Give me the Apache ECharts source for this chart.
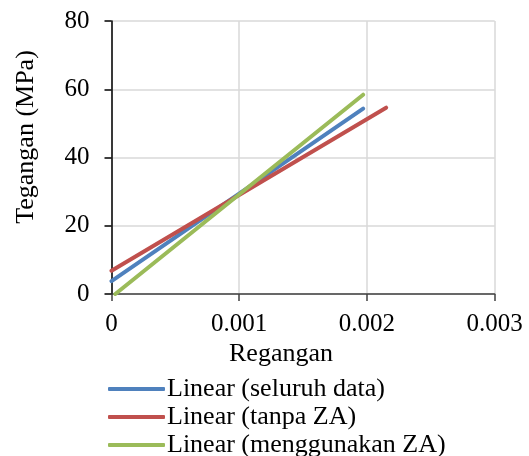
<!DOCTYPE html>
<html>
<head>
<meta charset="utf-8">
<script src="https://cdn.jsdelivr.net/npm/echarts@6/dist/echarts.min.js"></script>
<style>html,body{margin:0;padding:0;background:#fff}#c{width:529px;height:456px}</style>
</head>
<body>
<div id="c"></div>
<script>
var seriesNames = ['Linear (seluruh data)', 'Linear (tanpa ZA)', 'Linear (menggunakan ZA)'];
var blueX = [0, 0.00197];
var blueY = [3.8, 54.3];
var redX = [0, 0.00215];
var redY = [6.8, 54.6];
var greenX = [0.00003, 0.00197];
var greenY = [0, 58.4];
var xTicks = [0, 0.001, 0.002, 0.003];
var yTicks = [0, 20, 40, 60, 80];
var xTitle = 'Regangan';
var yTitle = 'Tegangan (MPa)';

function pairs(xs, ys) { return xs.map(function (x, i) { return [x, ys[i]]; }); }

var font = 'Liberation Serif, Times New Roman, serif';
var colors = ['#4F81BD', '#C0504D', '#9BBB59'];
var chart = echarts.init(document.getElementById('c'));
chart.setOption({
  animation: false,
  textStyle: { fontFamily: font },
  grid: { left: 111.5, right: 34.3, top: 21, bottom: 162 },
  xAxis: {
    type: 'value', min: xTicks[0], max: xTicks[xTicks.length - 1], interval: 0.001,
    axisLine: { show: true, lineStyle: { color: '#404040', width: 1.5 } },
    axisTick: { show: true, length: 7, lineStyle: { color: '#404040', width: 1.5 } },
    splitLine: { show: true, lineStyle: { color: '#d9d9d9', width: 1.5 } },
    axisLabel: { color: '#000', fontSize: 25, fontFamily: font, margin: 18,
      formatter: function (v) { return v === 0 ? '0' : v.toFixed(3); } }
  },
  yAxis: {
    type: 'value', min: yTicks[0], max: yTicks[yTicks.length - 1], interval: 20,
    axisLine: { show: true, lineStyle: { color: '#000', width: 1.5 } },
    axisTick: { show: true, length: 7, lineStyle: { color: '#000', width: 1.5 } },
    splitLine: { show: true, lineStyle: { color: '#d9d9d9', width: 1.5 } },
    axisLabel: { color: '#000', fontSize: 25, fontFamily: font, margin: 22 }
  },
  legend: {
    orient: 'vertical', left: 103, top: 371, height: 120, itemGap: 2,
    itemWidth: 57, itemHeight: 4, icon: 'roundRect',
    textStyle: { color: '#000', fontSize: 26, fontFamily: font, padding: [0, 0, 0, -3] },
    data: seriesNames
  },
  graphic: [
    { type: 'text', left: 281 - 52, top: 341, style: { text: xTitle, font: '26px ' + font, fill: '#000' } },
    { type: 'text', x: 13, y: 137, rotation: Math.PI / 2,
      style: { text: yTitle, font: '26px ' + font, fill: '#000', align: 'center', verticalAlign: 'top' } }
  ],
  series: [
    { name: seriesNames[0], type: 'line', data: pairs(blueX, blueY), symbol: 'none', color: colors[0],
      lineStyle: { width: 4, color: colors[0], cap: 'round' } },
    { name: seriesNames[1], type: 'line', data: pairs(redX, redY), symbol: 'none', color: colors[1],
      lineStyle: { width: 4, color: colors[1], cap: 'round' } },
    { name: seriesNames[2], type: 'line', data: pairs(greenX, greenY), symbol: 'none', color: colors[2],
      lineStyle: { width: 4, color: colors[2], cap: 'round' } }
  ]
});
</script>
</body>
</html>
